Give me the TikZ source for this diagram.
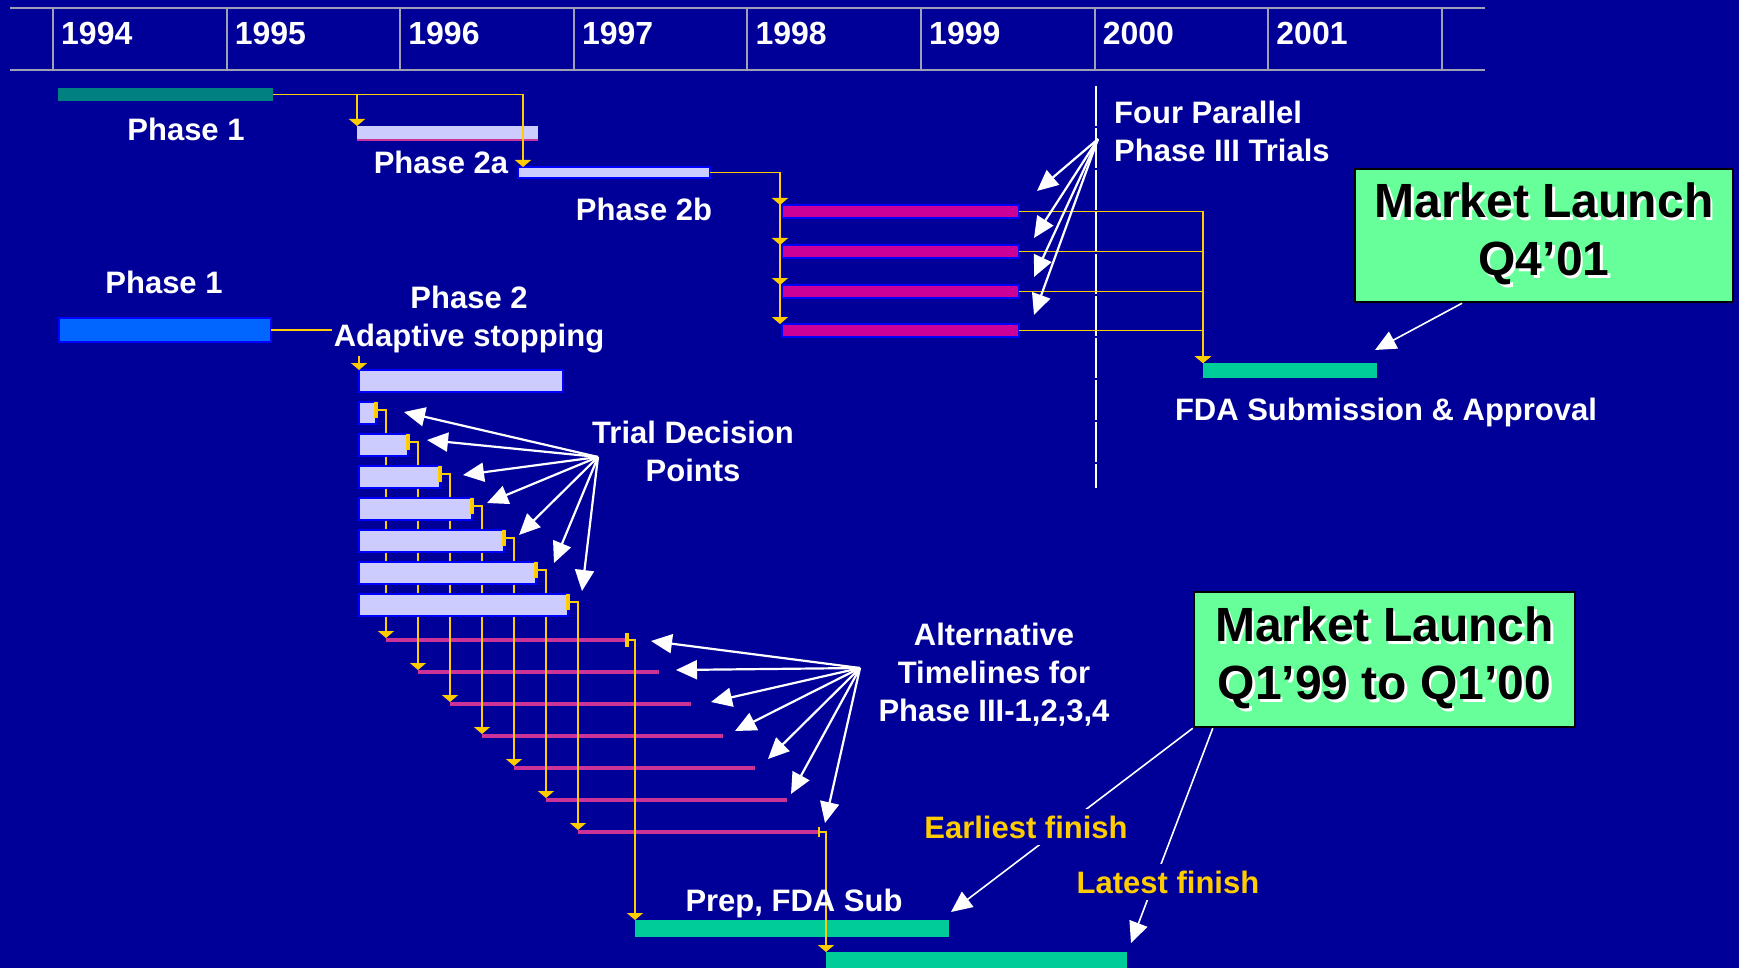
\documentclass[tikz,border=0pt]{standalone}
\usepackage{fontspec}
\setmainfont{Liberation Sans}
\usetikzlibrary{arrows.meta}

\definecolor{slideblue}{HTML}{000099}
\definecolor{gridgrey}{HTML}{A0A0B4}
\definecolor{linkyellow}{HTML}{FFCC00}
\definecolor{barteal}{HTML}{008080}
\definecolor{barlilac}{HTML}{CCCCFF}
\definecolor{barmagenta}{HTML}{CC0099}
\definecolor{altpink}{HTML}{CC3399}
\definecolor{fdagreen}{HTML}{00CC99}
\definecolor{barblue}{HTML}{0066FF}
\definecolor{launchgreen}{HTML}{66FF99}
\definecolor{edgeblue}{HTML}{0000FF}

\newcommand{\shadowed}[1]{\makebox[0pt][l]{\kern2.5pt\raisebox{-2.5pt}{\textcolor{white}{#1}}}#1}

\tikzset{
  bar/.style={anchor=north west, inner sep=0pt, outer sep=0pt},
  edged/.style={draw=edgeblue, line width=1.6pt},
  link/.style={draw=linkyellow, line width=1.8pt, -{Triangle[length=7pt,width=16pt]}},
  tick/.style={draw=linkyellow, line width=4pt},
  pointer/.style={draw=white, line width=2.2pt, -{Triangle[length=21pt,width=19pt]}},
  thinpointer/.style={pointer, line width=1.6pt},
  lbl/.style={text=white, inner sep=1pt, font=\fontsize{31}{38}\selectfont\bfseries},
  year/.style={anchor=base west, text=white, inner sep=0pt, font=\fontsize{32}{38}\selectfont\bfseries},
  launch/.style={draw=black, line width=2.5pt, fill=launchgreen, align=center,
    font=\fontsize{48}{58}\selectfont\bfseries}
}

\begin{document}
\begin{tikzpicture}[x=1pt,y=-1pt]
  \useasboundingbox (0,0) rectangle (1739,968);
  \fill[slideblue] (0,0) rectangle (1739,968);

  % year header
  \draw[gridgrey, line width=2.5pt] (10,8) -- (1485,8);
  \draw[gridgrey, line width=2.5pt] (10,70) -- (1485,70);
  \foreach \i in {0,...,8}
    \draw[gridgrey, line width=2pt] ({53+173.6*\i},8) -- ({53+173.6*\i},70);
  \foreach \yr [count=\i from 0] in {1994,...,2001}
    \node[year] (yr\yr) at ({61+173.6*\i},44.5) {\yr};

  % 2000 marker
  \draw[white, line width=1.4pt, dash pattern=on 40pt off 2pt] (1096,86) -- (1096,488);

  % classic plan
  \node[bar, fill=barteal, minimum width=215pt, minimum height=13pt] (ph1) at (58,88) {};
  \node[bar, fill=barlilac, minimum width=181pt, minimum height=14pt] (ph2a) at (357,126) {};
  \draw[altpink, line width=1.5pt] (ph2a.south west) -- (ph2a.south east);
  \node[bar, edged, fill=barlilac, minimum width=192pt, minimum height=11pt] (ph2b) at (518,167) {};
  \foreach \i/\y in {1/205,2/245,3/285,4/324}
    \node[bar, edged, fill=barmagenta, minimum width=237pt, minimum height=13pt] (ph3-\i) at (782,\y) {};
  \node[bar, fill=fdagreen, minimum width=174pt, minimum height=15pt] (fda) at (1203,363) {};

  \draw[link] (ph1.east) -| ([xshift=5pt]ph2b.north west);
  \draw[link] (ph1.east -| ph2a.west) -- (ph2a.north west);
  \foreach \i in {1,...,4} {
    \draw[link] (ph2b.east) -| ([xshift=-2pt]ph3-\i.north west);
    \draw[link] (ph3-\i.east) -| (fda.north west);
  }

  % adaptive plan
  \node[bar, edged, fill=barblue, minimum width=212pt, minimum height=24pt] (ad1) at (59,318) {};
  \node[bar, edged, fill=barlilac, minimum width=204pt, minimum height=22pt] (ad2) at (359,370) {};
  \draw[link] (ad1.east) -| (ad2.north west);
  \foreach \i in {1,...,7} {
    \node[bar, edged, fill=barlilac, minimum width={17+32*(\i-1)}, minimum height=22pt] (dp\i) at (359,{402+32*(\i-1)}) {};
    \node[bar, fill=altpink, minimum width=241pt, minimum height=4pt] (alt\i) at ({386+32*(\i-1)},{638+32*(\i-1)}) {};
    \draw[tick] (dp\i.north east) -- ++(0,16);
    \draw[link] ([yshift=-8pt]dp\i.north east) -| (alt\i.north west);
  }
  \node[bar, fill=fdagreen, minimum width=314pt, minimum height=17pt] (prep) at (635,920) {};
  \node[bar, fill=fdagreen, minimum width=301pt, minimum height=20pt] (fin) at (826,952) {};
  \draw[tick] ([yshift=7pt]alt1.east) -- ([yshift=-7pt]alt1.east);
  \draw[link] (alt1.east) -| (prep.north west);
  \draw[linkyellow, line width=1.5pt] ([yshift=5pt]alt7.east) -- ([yshift=-5pt]alt7.east);
  \draw[link] (alt7.east) -| (fin.north west);

  % callout arrows
  \coordinate (fpt) at (1098,139);
  \coordinate (tdp) at (598,457);
  \coordinate (atl) at (860,668);
  \foreach \i/\dx/\dy in {1/18/-14,2/15/-7,3/15/-8,4/15/-9}
    \draw[pointer] (fpt) -- ([shift={(\dx,\dy)}]ph3-\i.north east);
  \foreach \i/\dx/\dy in {1/28/-1,2/19/-5,3/23/-2,4/15/-6,5/15/-6,6/18/-10,7/14/-14}
    \draw[pointer] (tdp) -- ([shift={(\dx,\dy)}]dp\i.east);
  \foreach \i/\dx/\dy in {1/24/1,2/17/-2,3/20/-2,4/12/-5,5/13/-9,6/4/-6,7/6/-9}
    \draw[pointer] (atl) -- ([shift={(\dx,\dy)}]alt\i.east);

  % labels
  \node[lbl, anchor=base] (l-ph1) at (186,141) {Phase 1};
  \node[lbl, anchor=base] (l-ph2a) at (441,174) {Phase 2a};
  \node[lbl, anchor=base] (l-ph2b) at (644,221) {Phase 2b};
  \node[lbl, anchor=west, align=left] (l-four) at (1113,131) {Four Parallel\\Phase III Trials};
  \node[lbl, anchor=base] (l-fda) at (1386,420) {FDA Submission \& Approval};
  \node[lbl, anchor=base] (l-ad1) at (164,294) {Phase 1};
  \node[lbl, fill=slideblue, inner sep=2pt, align=center] (l-ad2) at (469,320) {Phase 2\\Adaptive stopping};
  \node[lbl, align=center] (l-tdp) at (693,451) {Trial Decision\\Points};
  \node[lbl, align=center] (l-alt) at (994,675) {Alternative\\Timelines for\\Phase III-1,2,3,4};
  \node[lbl, anchor=base] (l-prep) at (794,911) {Prep, FDA Sub};

  % market launch
  \node[launch, minimum width=378pt, minimum height=133pt] (ml4) at (1544,235.5)
    {\shadowed{Market Launch}\\\shadowed{Q4’01}};
  \node[launch, minimum width=381pt, minimum height=135pt] (ml1) at (1384.5,659.5)
    {\shadowed{Market Launch}\\\shadowed{Q1’99 to Q1’00}};
  \draw[thinpointer] ([xshift=-82pt]ml4.south) -- ([shift={(-2,-13)}]fda.north east);
  \draw[thinpointer] (ml1.south west) -- ([shift={(2,-8)}]prep.north east);
  \draw[thinpointer] ([xshift=20pt]ml1.south west) -- ([shift={(4,-9)}]fin.north east);
  \node[lbl, text=linkyellow, fill=slideblue, inner sep=7pt, anchor=base] (l-early) at (1026,838) {Earliest finish};
  \node[lbl, text=linkyellow, fill=slideblue, inner sep=7pt, anchor=base] (l-late) at (1168,893) {Latest finish};
\end{tikzpicture}
\end{document}
